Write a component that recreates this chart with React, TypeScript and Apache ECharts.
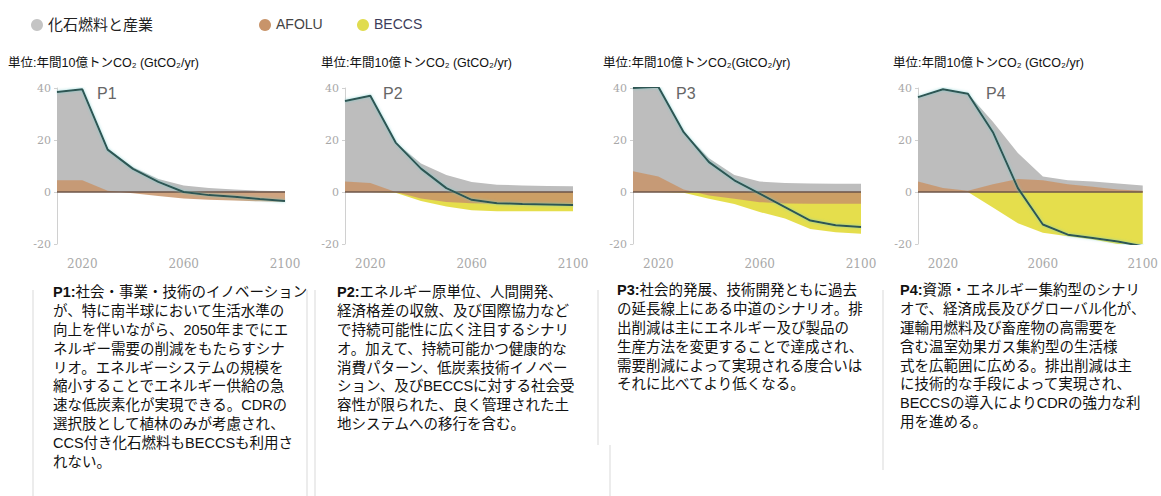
import React, { useEffect, useRef } from "react";
import * as echarts from "echarts";

const years = [2010, 2020, 2030, 2040, 2050, 2060, 2070, 2080, 2090, 2100];

// fossil fuel & industry (top of grey area), AFOLU (brown area), BECCS (lower edge of yellow area), net CO2 (line)
const p1Fossil = [38.5, 39.5, 16.5, 9.5, 5, 2.5, 1.5, 1, 0.5, 0.3];
const p1Afolu = [4.5, 4.5, 0.5, -0.5, -1.5, -2.5, -3, -3.3, -3.6, -3.8];
const p1Beccs = [0, 0, 0, 0, 0, 0, 0, 0, 0, 0];
const p1Net = [38.5, 39.5, 16.3, 8.9, 3.9, 0, -1.2, -1.8, -2.7, -3.5];

const p2Fossil = [35, 37, 19, 11, 6.5, 3.8, 2.8, 2.5, 2.3, 2.2];
const p2Afolu = [4, 3.5, 0, -2.5, -3.8, -4.3, -4.5, -4.5, -4.5, -4.5];
const p2Beccs = [0, 0, -0.3, -3.5, -5.6, -7, -7.4, -7.4, -7.4, -7.4];
const p2Net = [35, 37, 19, 9, 1.5, -3, -4.3, -4.6, -4.8, -5];

const p3Fossil = [40, 40.5, 23, 13, 6.5, 4, 3.5, 3.3, 3.2, 3.2];
const p3Afolu = [8, 6, 1, -1.3, -2.6, -3.9, -4.4, -4.5, -4.5, -4.5];
const p3Beccs = [0, 0, -0.3, -2.6, -4.6, -7.7, -10.2, -14.2, -15.5, -16.1];
const p3Net = [40, 40.5, 23, 11.5, 4.5, -0.6, -5.8, -11, -12.8, -13.5];

const p4Fossil = [36.5, 39.5, 37.8, 27, 15, 6, 4.5, 4, 3.3, 2.5];
const p4Afolu = [4, 1.5, 0.5, 3, 5, 4.5, 3, 2, 1, 0.5];
const p4Beccs = [0, 0, 0, -6, -12, -15.7, -17, -18.3, -20, -21.5];
const p4Net = [36.5, 39.5, 37.8, 23, 1.5, -12.5, -16.4, -17.7, -19, -20.9];

const panelNames = ["P1", "P2", "P3", "P4"];
const legendNames = ["化石燃料と産業", "AFOLU", "BECCS"];
const xLabelYears = [2020, 2060, 2100];
const unitLabels = [
  "単位:年間10億トンCO₂ (GtCO₂/yr)",
  "単位:年間10億トンCO₂ (GtCO₂/yr)",
  "単位:年間10億トンCO₂(GtCO₂/yr)",
  "単位:年間10億トンCO₂ (GtCO₂/yr)",
];
const descriptions = [
  [
    "社会・事業・技術のイノベーション",
    "が、特に南半球において生活水準の",
    "向上を伴いながら、2050年までにエ",
    "ネルギー需要の削減をもたらすシナ",
    "リオ。エネルギーシステムの規模を",
    "縮小することでエネルギー供給の急",
    "速な低炭素化が実現できる。CDRの",
    "選択肢として植林のみが考慮され、",
    "CCS付き化石燃料もBECCSも利用さ",
    "れない。",
  ],
  [
    "エネルギー原単位、人間開発、",
    "経済格差の収斂、及び国際協力など",
    "で持続可能性に広く注目するシナリ",
    "オ。加えて、持続可能かつ健康的な",
    "消費パターン、低炭素技術イノベー",
    "ション、及びBECCSに対する社会受",
    "容性が限られた、良く管理された土",
    "地システムへの移行を含む。",
  ],
  [
    "社会的発展、技術開発ともに過去",
    "の延長線上にある中道のシナリオ。排",
    "出削減は主にエネルギー及び製品の",
    "生産方法を変更することで達成され、",
    "需要削減によって実現される度合いは",
    "それに比べてより低くなる。",
  ],
  [
    "資源・エネルギー集約型のシナリ",
    "オで、経済成長及びグローバル化が、",
    "運輸用燃料及び畜産物の高需要を",
    "含む温室効果ガス集約型の生活様",
    "式を広範囲に広める。排出削減は主",
    "に技術的な手段によって実現され、",
    "BECCSの導入によりCDRの強力な利",
    "用を進める。",
  ],
];

const panels = [
  { fossil: p1Fossil, afolu: p1Afolu, beccs: p1Beccs, net: p1Net },
  { fossil: p2Fossil, afolu: p2Afolu, beccs: p2Beccs, net: p2Net },
  { fossil: p3Fossil, afolu: p3Afolu, beccs: p3Beccs, net: p3Net },
  { fossil: p4Fossil, afolu: p4Afolu, beccs: p4Beccs, net: p4Net },
];

const COLORS = { fossil: "#bdbdbd", afolu: "#c8946a", beccs: "#e4dc42", net: "#2d5552", zero: "#6d5548" };
const LEGEND_COLORS = ["#c4c4c4", "#c8946a", "#e0dc50"];
const FONT = "'Liberation Sans', 'Noto Sans CJK JP', sans-serif";
const DESC_SIZE = 14.5;
const DESC_LH = 18.8;

const layout = {
  gridLefts: [57, 345, 633, 918],
  gridWidths: [228, 228, 228, 230],
  gridTop: 88,
  gridHeight: 156,
  unitX: [8, 321, 603, 893],
  pLabelX: [97, 383, 676, 986],
  descX: [53, 337, 617, 900],
  descTop: [283, 283, 281, 281],
};

const zip = (ys: number[]) => years.map((y, i) => [y, ys[i]]);

export default function App() {
  const ref = useRef<HTMLDivElement>(null);
  useEffect(() => {
    document.body.style.margin = "0";
    const chart = echarts.init(ref.current!, null, { renderer: "svg" });

    const grid: any[] = [];
    const xAxis: any[] = [];
    const yAxis: any[] = [];
    const series: any[] = [];
    const graphic: any[] = [];

    panels.forEach((p, i) => {
      grid.push({
        left: layout.gridLefts[i],
        top: layout.gridTop,
        width: layout.gridWidths[i],
        height: layout.gridHeight,
      });
      xAxis.push({
        type: "value",
        gridIndex: i,
        min: 2010,
        max: 2100,
        interval: 10,
        axisLine: { show: false },
        axisTick: { show: false },
        splitLine: { show: false },
        axisLabel: {
          margin: 14,
          color: "#a8a8a8",
          fontSize: 12,
          fontFamily: "'DejaVu Serif', serif",
          formatter: (v: number) => (xLabelYears.includes(v) ? String(v) : ""),
        },
      });
      yAxis.push({
        type: "value",
        gridIndex: i,
        min: -20,
        max: 40,
        interval: 20,
        axisLine: { show: true, lineStyle: { color: "#d0d0d0" } },
        axisTick: { show: true, length: 3, lineStyle: { color: "#d0d0d0" } },
        splitLine: { show: false },
        axisLabel: { margin: 6, color: "#a8a8a8", fontSize: 11, fontFamily: "'DejaVu Serif', serif" },
      });
      series.push({
        name: legendNames[0],
        type: "line",
        xAxisIndex: i,
        yAxisIndex: i,
        data: zip(p.fossil),
        symbol: "none",
        lineStyle: { width: 0 },
        areaStyle: { color: COLORS.fossil, opacity: 1 },
      });
      series.push({
        name: legendNames[2],
        type: "line",
        xAxisIndex: i,
        yAxisIndex: i,
        data: zip(p.beccs),
        symbol: "none",
        lineStyle: { width: 0 },
        areaStyle: { color: COLORS.beccs, opacity: 0.95 },
      });
      series.push({
        name: legendNames[1],
        type: "line",
        xAxisIndex: i,
        yAxisIndex: i,
        data: zip(p.afolu),
        symbol: "none",
        lineStyle: { width: 0 },
        areaStyle: { color: COLORS.afolu, opacity: 0.85 },
      });
      series.push({
        name: "net" + i,
        type: "line",
        xAxisIndex: i,
        yAxisIndex: i,
        data: zip(p.net),
        symbol: "none",
        z: 5,
        lineStyle: {
          color: COLORS.net,
          width: 2,
          shadowColor: "rgba(110,200,200,0.7)",
          shadowBlur: 3,
        },
        markLine: {
          silent: true,
          symbol: "none",
          label: { show: false },
          lineStyle: { color: COLORS.zero, width: 1.5, type: "solid" },
          data: [{ yAxis: 0 }],
          z: 4,
        },
      });

      graphic.push({
        type: "text",
        left: layout.unitX[i],
        top: 57,
        style: { text: unitLabels[i], fontSize: 12.5, fontFamily: FONT, fill: "#111" },
      });
      graphic.push({
        type: "text",
        left: layout.pLabelX[i],
        top: 85,
        z: 10,
        style: { text: panelNames[i], fontSize: 16, fontFamily: FONT, fill: "#666" },
      });
      const lines = descriptions[i];
      const text =
        "{b|" + panelNames[i] + ":}" + "{n|" + lines[0] + "}\n" +
        lines.slice(1).map((l) => "{n|" + l + "}").join("\n");
      graphic.push({
        type: "text",
        left: layout.descX[i],
        top: layout.descTop[i],
        style: {
          text,
          fontSize: DESC_SIZE,
          lineHeight: DESC_LH,
          fontFamily: FONT,
          fill: "#111",
          rich: {
            b: { fontSize: DESC_SIZE, lineHeight: DESC_LH, fontWeight: "bold", fontFamily: FONT, fill: "#111" },
            n: { fontSize: DESC_SIZE, lineHeight: DESC_LH, fontFamily: FONT, fill: "#111" },
          },
        },
      });
    });

    // faint box borders around description panels
    const boxLines = [
      [33, 290, 33, 496],
      [307, 290, 307, 496],
      [315, 290, 315, 496],
      [598, 290, 598, 445],
      [610, 445, 610, 496],
      [883, 290, 883, 470],
    ];
    boxLines.forEach(([x1, y1, x2, y2]) =>
      graphic.push({
        type: "line",
        shape: { x1, y1, x2, y2 },
        style: { stroke: "#ececec", lineWidth: 2 },
      })
    );

    // legend
    const legendX = [37, 265, 363];
    legendNames.forEach((name, k) => {
      graphic.push({
        type: "circle",
        shape: { cx: legendX[k], cy: 25, r: 6 },
        style: { fill: LEGEND_COLORS[k] },
      });
      graphic.push({
        type: "text",
        left: legendX[k] + 11,
        top: 17,
        style: {
          text: name,
          fontSize: k === 0 ? 15 : 14,
          fontFamily: FONT,
          fill: k === 0 ? "#222" : k === 1 ? "#444" : "#3c3c5a",
        },
      });
    });

    chart.setOption({
      animation: false,
      backgroundColor: "#ffffff",
      grid,
      xAxis,
      yAxis,
      series,
      graphic,
    });
    return () => chart.dispose();
  }, []);
  return <div ref={ref} style={{ width: 1161, height: 496 }} />;
}
